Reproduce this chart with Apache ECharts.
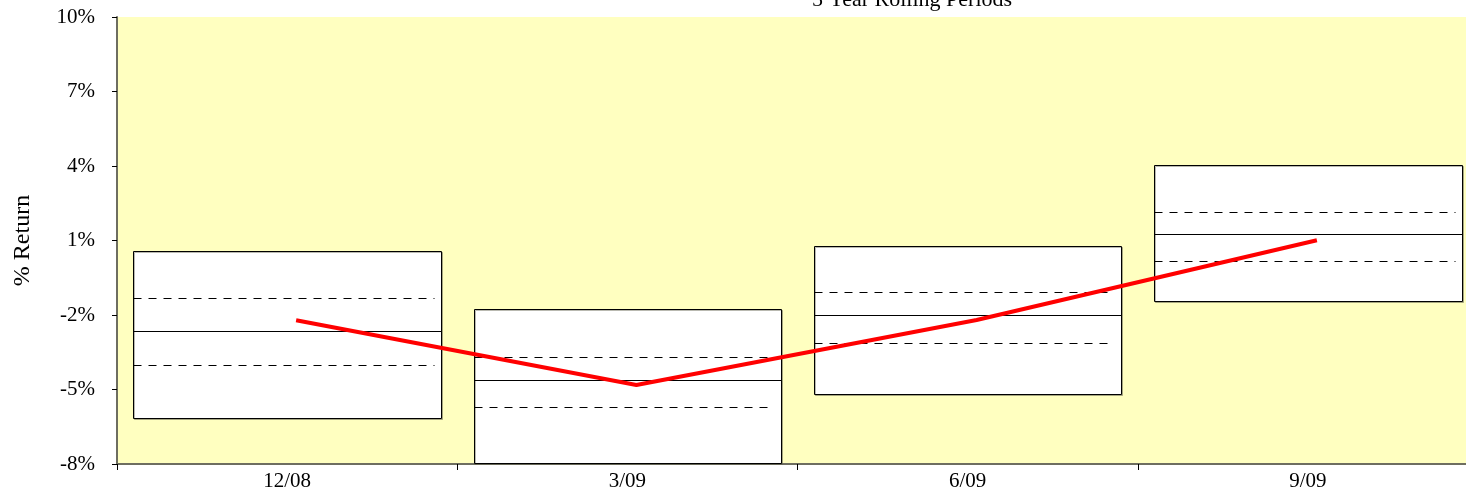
<!DOCTYPE html>
<html>
<head>
<meta charset="utf-8">
<script src="https://cdn.jsdelivr.net/npm/echarts@6/dist/echarts.min.js"></script>
<style>
html,body{margin:0;padding:0;background:#fff;overflow:hidden;width:1466px;height:493px;}
#chart{width:1490px;height:493px;}
</style>
</head>
<body>
<div id="chart"></div>
<script>
const categories = ['12/08', '3/09', '6/09', '9/09'];
const maxVals    = [0.57, -1.75, 0.78, 4.05];
const upperVals  = [-1.33, -3.68, -1.06, 2.16];
const medianVals = [-2.64, -4.63, -2.01, 1.25];
const lowerVals  = [-4.00, -5.72, -3.12, 0.16];
const minVals    = [-6.14, -7.96, -5.17, -1.44];
const returnVals = [-2.21, -4.82, -2.20, 1.01];
const yTicks = [-8, -5, -2, 1, 4, 7, 10];

const boxData = categories.map((c, i) => [i, maxVals[i], upperVals[i], medianVals[i], lowerVals[i], minVals[i]]);

const FONT = 'Liberation Serif';

function renderBox(params, api) {
  const idx = api.value(0);
  const band = api.size([1, 0])[0];
  const halfW = band * 0.452;
  const pTop = api.coord([idx, api.value(1)]);
  const pUp = api.coord([idx, api.value(2)]);
  const pMed = api.coord([idx, api.value(3)]);
  const pLow = api.coord([idx, api.value(4)]);
  const pBot = api.coord([idx, api.value(5)]);
  const x0 = Math.round(pTop[0] - halfW) + 0.5, x1 = Math.round(pTop[0] + halfW) + 0.5;
  const yT = Math.round(pTop[1]) + 0.5, yB = Math.round(pBot[1]) + 0.5;
  const yU = Math.round(pUp[1]) + 0.5, yM = Math.round(pMed[1]) + 0.5, yL = Math.round(pLow[1]) + 0.5;
  const dashEnd = x1 - 7;
  return {
    type: 'group',
    children: [
      { type: 'rect', shape: { x: x0, y: yT, width: x1 - x0, height: yB - yT },
        style: { fill: '#ffffff', stroke: '#000', lineWidth: 1,
                 shadowColor: 'rgba(100,100,80,0.45)', shadowOffsetX: 1, shadowOffsetY: 1, shadowBlur: 0 } },
      { type: 'line', shape: { x1: x0, y1: yM, x2: x1, y2: yM },
        style: { stroke: '#000', lineWidth: 1 } },
      { type: 'line', shape: { x1: x0, y1: yU, x2: dashEnd, y2: yU },
        style: { stroke: '#000', lineWidth: 1, lineDash: [8, 7] } },
      { type: 'line', shape: { x1: x0, y1: yL, x2: dashEnd, y2: yL },
        style: { stroke: '#000', lineWidth: 1, lineDash: [8, 7] } }
    ]
  };
}

const chart = echarts.init(document.getElementById('chart'), null, { renderer: 'canvas' });
chart.setOption({
  animation: false,
  backgroundColor: '#ffffff',
  title: {
    text: '5 Year Rolling Periods',
    left: 807, top: -16,
    textStyle: { fontFamily: FONT, fontSize: 22, fontWeight: 'normal', color: '#000' }
  },
  grid: [
    { left: 117, top: 17, width: 1361, height: 447, show: true, backgroundColor: '#FFFFC0', borderWidth: 0 },
    { left: 126, top: 17, width: 1361, height: 447, show: false }
  ],
  xAxis: [
    { type: 'category', gridIndex: 0, data: categories,
      axisLine: { onZero: false, lineStyle: { color: '#6e6e60', width: 2 } },
      axisTick: { show: true, length: 6, lineStyle: { color: '#000' } },
      axisLabel: { color: '#000', fontFamily: FONT, fontSize: 21, margin: 7 },
      splitLine: { show: false } },
    { type: 'category', gridIndex: 1, data: categories, show: false }
  ],
  yAxis: [
    { type: 'value', gridIndex: 0, min: -8, max: 10, interval: 3,
      name: '% Return', nameLocation: 'middle', nameGap: 82,
      nameTextStyle: { fontFamily: FONT, fontSize: 24, color: '#000' },
      axisLine: { show: true, lineStyle: { color: '#6e6e60', width: 2 } },
      axisTick: { show: true, length: 5, lineStyle: { color: '#000' } },
      axisLabel: { color: '#000', fontFamily: FONT, fontSize: 21, margin: 22,
                   formatter: v => yTicks.includes(v) ? v + '%' : '' },
      splitLine: { show: false } },
    { type: 'value', gridIndex: 1, min: -8, max: 10, interval: 3, show: false }
  ],
  series: [
    { type: 'custom', xAxisIndex: 0, yAxisIndex: 0, renderItem: renderBox,
      encode: { x: 0, y: [1, 2, 3, 4, 5] }, data: boxData, z: 2 },
    { type: 'line', xAxisIndex: 1, yAxisIndex: 1, data: returnVals, symbol: 'none',
      lineStyle: { color: '#ff0000', width: 4 }, z: 5 }
  ]
});
</script>
</body>
</html>
